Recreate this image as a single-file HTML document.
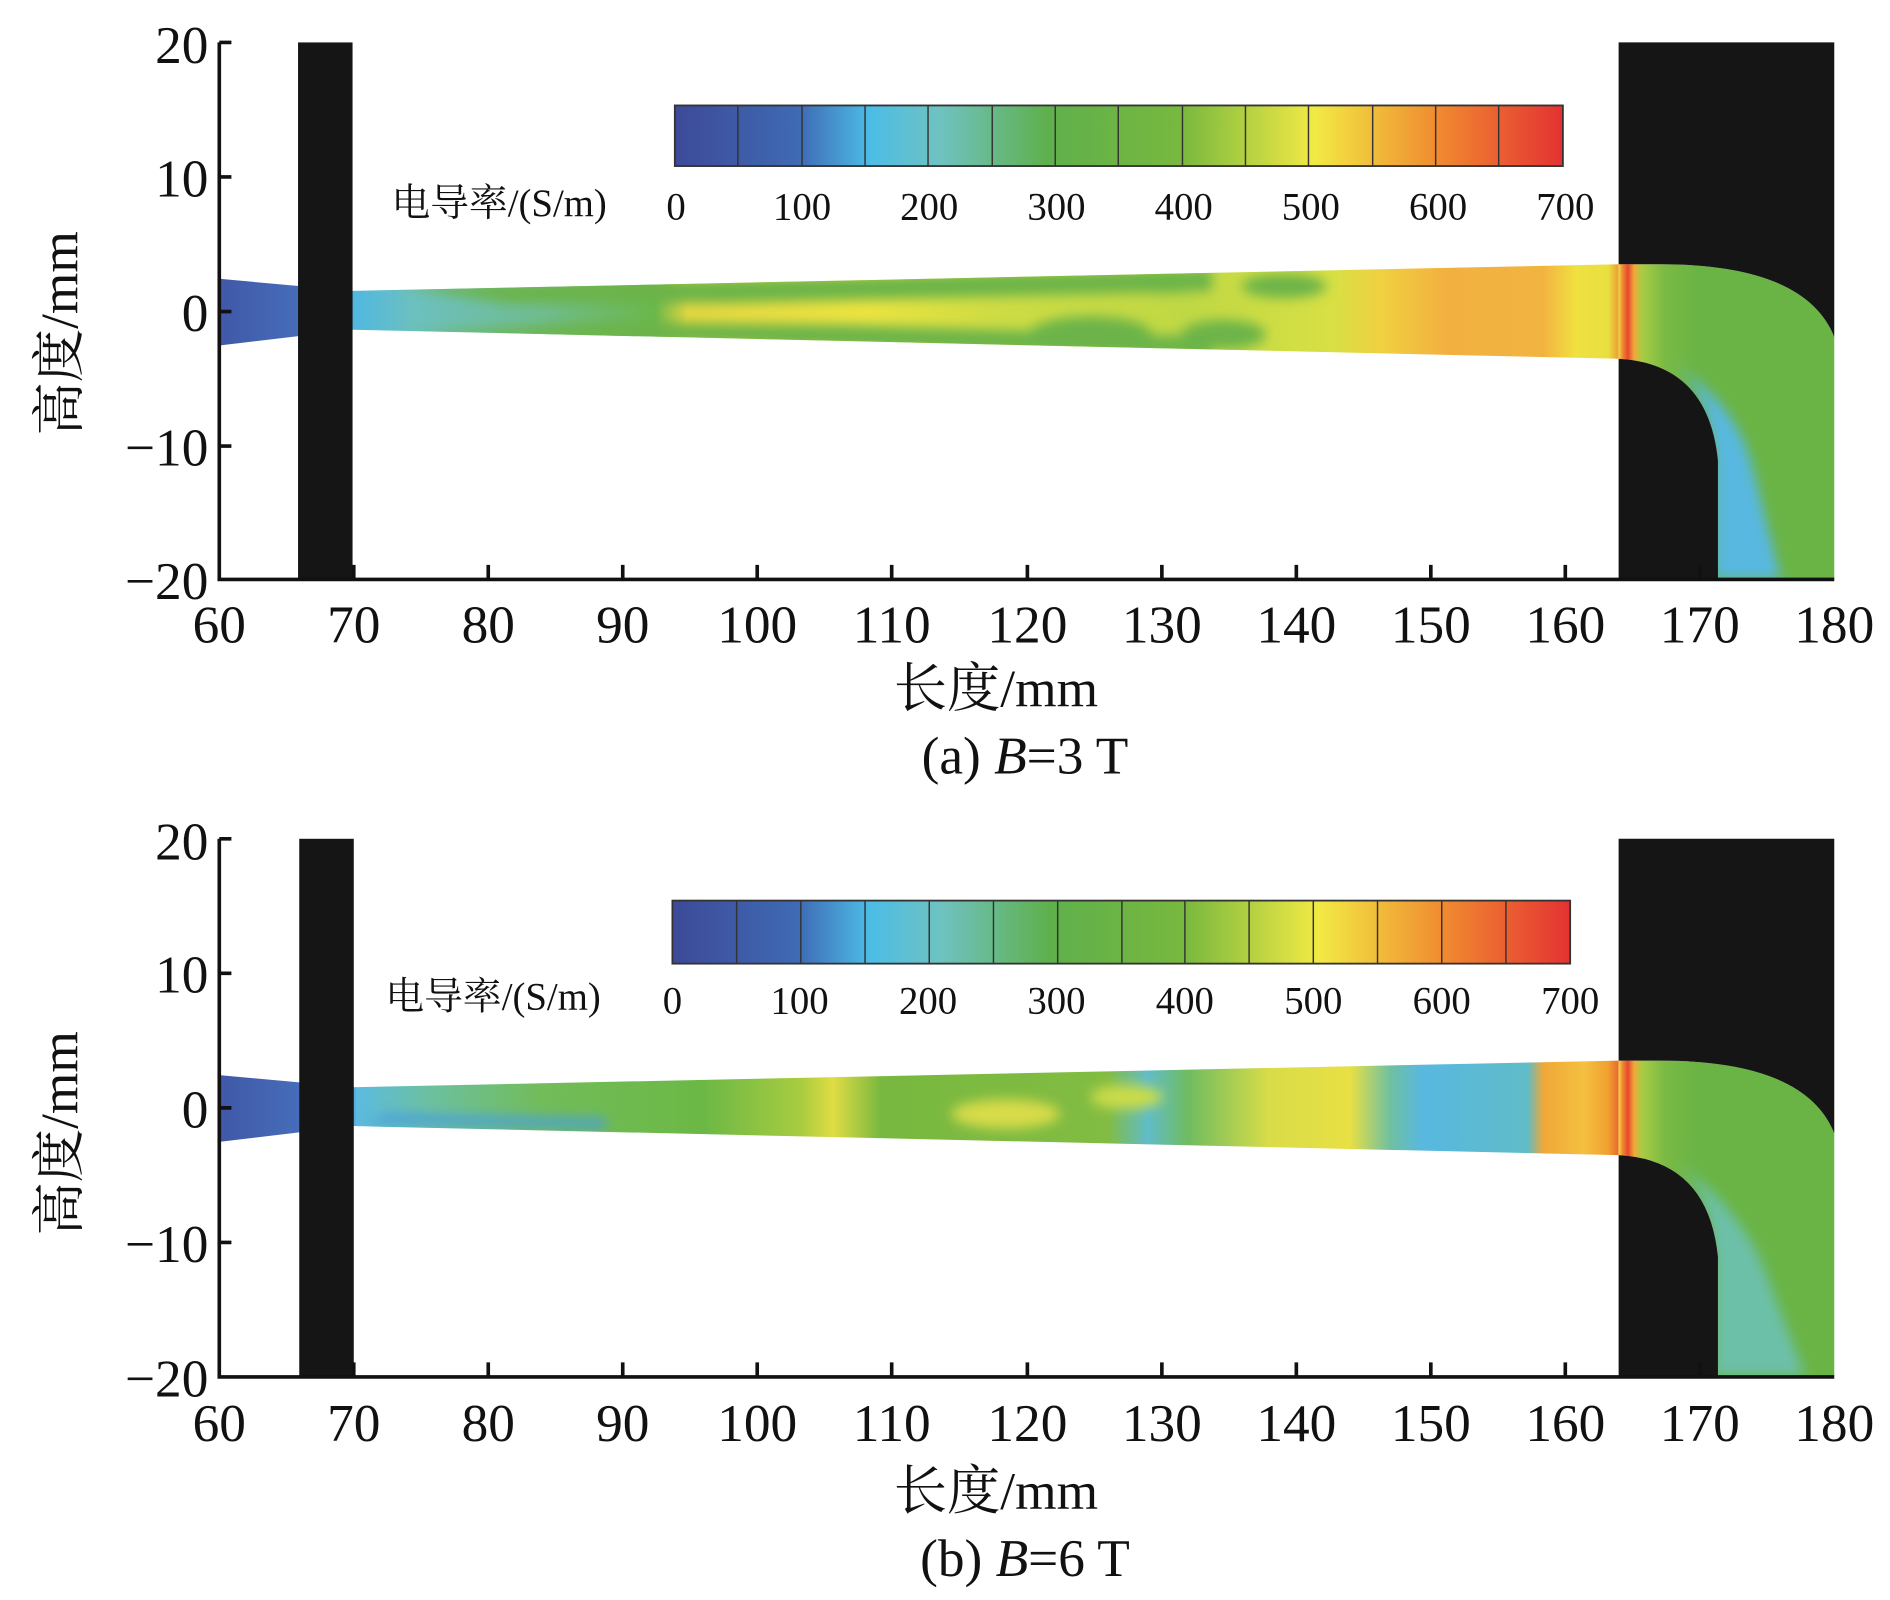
<!DOCTYPE html>
<html><head><meta charset="utf-8"><style>
html,body{margin:0;padding:0;background:#fff;}
svg{display:block;}
text{font-family:"Liberation Serif","Noto Serif CJK SC",serif;fill:#111;}
</style></head><body>
<svg width="1890" height="1600" viewBox="0 0 1560 1320" preserveAspectRatio="none" xmlns="http://www.w3.org/2000/svg">
<defs>
<filter id="bl" x="-20%" y="-50%" width="140%" height="200%"><feGaussianBlur stdDeviation="5"/></filter>
<filter id="bl2" x="-50%" y="-20%" width="200%" height="140%"><feGaussianBlur stdDeviation="2"/></filter>
<clipPath id="ch"><path d="M291,240 L1336,218 L1336,296 L291,272 Z"/></clipPath>
<clipPath id="bend"><path d="M1336,218 L1370,218 Q1490,218 1514,278 L1514,478 L1418,478 L1418,380 Q1410,300 1336,296 Z"/></clipPath>
<linearGradient id="cb" x1="0" x2="1" y1="0" y2="0">
<stop offset="0" stop-color="#3d4a98"/><stop offset="0.14" stop-color="#3f6ab4"/>
<stop offset="0.22" stop-color="#4cbde6"/><stop offset="0.3" stop-color="#6fc2c0"/>
<stop offset="0.42" stop-color="#5fb04c"/><stop offset="0.57" stop-color="#78b83e"/>
<stop offset="0.72" stop-color="#f2ea44"/><stop offset="0.86" stop-color="#f08a30"/>
<stop offset="1" stop-color="#e43232"/>
</linearGradient>
<linearGradient id="ga" gradientUnits="userSpaceOnUse" x1="181" x2="1514" y1="0" y2="0">
<stop offset="0" stop-color="#4058a8"/><stop offset="0.08" stop-color="#4a7ac4"/>
<stop offset="0.083" stop-color="#50b8e0"/><stop offset="0.12" stop-color="#6cc0c0"/>
<stop offset="0.2" stop-color="#70bc90"/><stop offset="0.27" stop-color="#6ab84a"/>
<stop offset="0.29" stop-color="#e8d840"/><stop offset="0.4" stop-color="#ece440"/>
<stop offset="0.48" stop-color="#cedc44"/><stop offset="0.6" stop-color="#c0d844"/>
<stop offset="0.69" stop-color="#d8e044"/><stop offset="0.72" stop-color="#f0d040"/>
<stop offset="0.76" stop-color="#f2b040"/><stop offset="0.82" stop-color="#f2b440"/>
<stop offset="0.84" stop-color="#f0e040"/><stop offset="0.86" stop-color="#e8e040"/>
<stop offset="0.868" stop-color="#f08a30"/><stop offset="0.875" stop-color="#e84830"/>
<stop offset="0.885" stop-color="#80bc44"/><stop offset="1" stop-color="#6ab445"/>
</linearGradient>
<linearGradient id="gb" gradientUnits="userSpaceOnUse" x1="181" x2="1514" y1="0" y2="0">
<stop offset="0" stop-color="#4058a8"/><stop offset="0.08" stop-color="#4a7ac4"/>
<stop offset="0.085" stop-color="#5cbbe0"/><stop offset="0.13" stop-color="#6cc0a0"/>
<stop offset="0.2" stop-color="#72bc5a"/><stop offset="0.3" stop-color="#6cb845"/>
<stop offset="0.36" stop-color="#a8cc40"/><stop offset="0.38" stop-color="#e0dc44"/>
<stop offset="0.41" stop-color="#78b840"/><stop offset="0.55" stop-color="#82bc42"/>
<stop offset="0.575" stop-color="#60bcc8"/><stop offset="0.6" stop-color="#70bc60"/>
<stop offset="0.65" stop-color="#d8dc48"/><stop offset="0.7" stop-color="#e8e044"/>
<stop offset="0.725" stop-color="#70c0a0"/><stop offset="0.745" stop-color="#58b8e0"/>
<stop offset="0.81" stop-color="#60bcc8"/><stop offset="0.82" stop-color="#f0a838"/>
<stop offset="0.845" stop-color="#f4c040"/><stop offset="0.86" stop-color="#f0a030"/>
<stop offset="0.87" stop-color="#e84830"/><stop offset="0.88" stop-color="#7aba44"/>
<stop offset="1" stop-color="#6ab445"/>
</linearGradient>
<linearGradient id="bendg" gradientUnits="userSpaceOnUse" x1="1336" x2="1400" y1="0" y2="0">
<stop offset="0" stop-color="#e8e040"/><stop offset="0.05" stop-color="#f08a30"/>
<stop offset="0.12" stop-color="#e84830"/><stop offset="0.2" stop-color="#f0a838"/>
<stop offset="0.3" stop-color="#a8cc44"/><stop offset="0.6" stop-color="#7aba44"/>
<stop offset="1" stop-color="#6ab445"/>
</linearGradient>
</defs>

<!-- PANEL A -->
<g>
<path d="M181,230 L291,240 L1336,218 L1336,296 L291,272 L181,285 Z" fill="url(#ga)"/>
<g clip-path="url(#ch)" filter="url(#bl)" fill="#6cb448">
<path d="M330,236 L1000,222 L1000,240 L600,250 L420,250 Z"/>
<path d="M330,276 L1000,296 L1000,278 L700,268 L500,266 Z"/>
<ellipse cx="900" cy="275" rx="50" ry="14"/>
<ellipse cx="1010" cy="276" rx="35" ry="12"/>
<ellipse cx="960" cy="232" rx="40" ry="10"/>
<ellipse cx="1060" cy="236" rx="35" ry="10"/>
</g>
<path d="M1336,218 L1370,218 Q1490,218 1514,278 L1514,478 L1418,478 L1418,380 Q1410,300 1336,296 Z" fill="url(#bendg)"/>
<g clip-path="url(#bend)" filter="url(#bl)">
<path d="M1380,300 Q1430,330 1445,380 L1470,478 L1415,478 L1415,380 Q1410,320 1380,300 Z" fill="#58b8e0"/>
</g>
<rect x="246" y="35" width="45" height="443" fill="#151515"/>
<path d="M1336,35 L1514,35 L1514,278 Q1490,218 1370,218 L1336,218 Z" fill="#151515"/>
<path d="M1336,296 Q1410,300 1418,380 L1418,478 L1336,478 Z" fill="#151515"/>
<rect x="557" y="87" width="733" height="50" fill="url(#cb)" stroke="#333" stroke-width="1.5"/>
<g stroke="#333" stroke-width="1.2">
<line x1="609" y1="87" x2="609" y2="137"/><line x1="662" y1="87" x2="662" y2="137"/><line x1="714" y1="87" x2="714" y2="137"/><line x1="766" y1="87" x2="766" y2="137"/><line x1="819" y1="87" x2="819" y2="137"/><line x1="871" y1="87" x2="871" y2="137"/><line x1="923" y1="87" x2="923" y2="137"/><line x1="976" y1="87" x2="976" y2="137"/><line x1="1028" y1="87" x2="1028" y2="137"/><line x1="1080" y1="87" x2="1080" y2="137"/><line x1="1133" y1="87" x2="1133" y2="137"/><line x1="1185" y1="87" x2="1185" y2="137"/><line x1="1237" y1="87" x2="1237" y2="137"/>
</g>
<g font-size="32" text-anchor="middle">
<text x="558" y="181">0</text><text x="662" y="181">100</text><text x="767" y="181">200</text><text x="872" y="181">300</text><text x="977" y="181">400</text><text x="1082" y="181">500</text><text x="1187" y="181">600</text><text x="1292" y="181">700</text>
<text x="412" y="178">电导率/(S/m)</text>
</g>
<g stroke="#111" stroke-width="3" fill="none">
<path d="M181,35 L181,478 L1514,478"/>
<path d="M181,35 h10 M181,146 h10 M181,257 h10 M181,368 h10 M292,478 v-12 M403,478 v-12 M514,478 v-12 M625,478 v-12 M736,478 v-12 M848,478 v-12 M959,478 v-12 M1070,478 v-12 M1181,478 v-12 M1292,478 v-12 M1403,478 v-12"/>
</g>
<g font-size="44" text-anchor="end">
<text x="172" y="52">20</text><text x="172" y="162">10</text><text x="172" y="273">0</text><text x="172" y="384">−10</text><text x="172" y="494">−20</text>
</g>
<g font-size="44" text-anchor="middle">
<text x="181" y="530">60</text><text x="292" y="530">70</text><text x="403" y="530">80</text><text x="514" y="530">90</text><text x="625" y="530">100</text><text x="736" y="530">110</text><text x="848" y="530">120</text><text x="959" y="530">130</text><text x="1070" y="530">140</text><text x="1181" y="530">150</text><text x="1292" y="530">160</text><text x="1403" y="530">170</text><text x="1514" y="530">180</text>
<text x="822" y="583">长度/mm</text>
<text x="846" y="638">(a) <tspan font-style="italic">B</tspan>=3 T</text>
<text transform="translate(64,275) rotate(-90)">高度/mm</text>
</g>
</g>

<!-- PANEL B -->
<g transform="translate(0,657)">
<path d="M181,230 L291,240 L1336,218 L1336,296 L291,272 L181,285 Z" fill="url(#gb)"/>
<g clip-path="url(#ch)" filter="url(#bl)">
<path d="M300,270 L500,274 L500,266 L320,262 Z" fill="#4aa0d8"/>
<ellipse cx="830" cy="262" rx="45" ry="12" fill="#d8dc48"/>
<ellipse cx="930" cy="248" rx="30" ry="10" fill="#cadc48"/>
</g>
<path d="M1336,218 L1370,218 Q1490,218 1514,278 L1514,478 L1418,478 L1418,380 Q1410,300 1336,296 Z" fill="url(#bendg)"/>
<g clip-path="url(#bend)" filter="url(#bl)">
<path d="M1380,300 Q1440,340 1460,400 L1490,478 L1415,478 L1415,380 Q1410,320 1380,300 Z" fill="#6cc0a8"/>
</g>
<rect x="247" y="35" width="45" height="443" fill="#151515"/>
<path d="M1336,35 L1514,35 L1514,278 Q1490,218 1370,218 L1336,218 Z" fill="#151515"/>
<path d="M1336,296 Q1410,300 1418,380 L1418,478 L1336,478 Z" fill="#151515"/>
<rect x="555" y="86" width="741" height="52" fill="url(#cb)" stroke="#333" stroke-width="1.5"/>
<g stroke="#333" stroke-width="1.2">
<line x1="608" y1="86" x2="608" y2="138"/><line x1="661" y1="86" x2="661" y2="138"/><line x1="714" y1="86" x2="714" y2="138"/><line x1="767" y1="86" x2="767" y2="138"/><line x1="820" y1="86" x2="820" y2="138"/><line x1="873" y1="86" x2="873" y2="138"/><line x1="926" y1="86" x2="926" y2="138"/><line x1="978" y1="86" x2="978" y2="138"/><line x1="1031" y1="86" x2="1031" y2="138"/><line x1="1084" y1="86" x2="1084" y2="138"/><line x1="1137" y1="86" x2="1137" y2="138"/><line x1="1190" y1="86" x2="1190" y2="138"/><line x1="1243" y1="86" x2="1243" y2="138"/>
</g>
<g font-size="32" text-anchor="middle">
<text x="555" y="179">0</text><text x="660" y="179">100</text><text x="766" y="179">200</text><text x="872" y="179">300</text><text x="978" y="179">400</text><text x="1084" y="179">500</text><text x="1190" y="179">600</text><text x="1296" y="179">700</text>
<text x="407" y="176">电导率/(S/m)</text>
</g>
<g stroke="#111" stroke-width="3" fill="none">
<path d="M181,35 L181,479 L1514,479"/>
<path d="M181,35 h10 M181,146 h10 M181,257 h10 M181,368 h10 M292,479 v-12 M403,479 v-12 M514,479 v-12 M625,479 v-12 M736,479 v-12 M848,479 v-12 M959,479 v-12 M1070,479 v-12 M1181,479 v-12 M1292,479 v-12 M1403,479 v-12"/>
</g>
<g font-size="44" text-anchor="end">
<text x="172" y="52">20</text><text x="172" y="162">10</text><text x="172" y="273">0</text><text x="172" y="384">−10</text><text x="172" y="495">−20</text>
</g>
<g font-size="44" text-anchor="middle">
<text x="181" y="532">60</text><text x="292" y="532">70</text><text x="403" y="532">80</text><text x="514" y="532">90</text><text x="625" y="532">100</text><text x="736" y="532">110</text><text x="848" y="532">120</text><text x="959" y="532">130</text><text x="1070" y="532">140</text><text x="1181" y="532">150</text><text x="1292" y="532">160</text><text x="1403" y="532">170</text><text x="1514" y="532">180</text>
<text x="822" y="588">长度/mm</text>
<text x="846" y="643">(b) <tspan font-style="italic">B</tspan>=6 T</text>
<text transform="translate(64,278) rotate(-90)">高度/mm</text>
</g>
</g>
</svg>
</body></html>
